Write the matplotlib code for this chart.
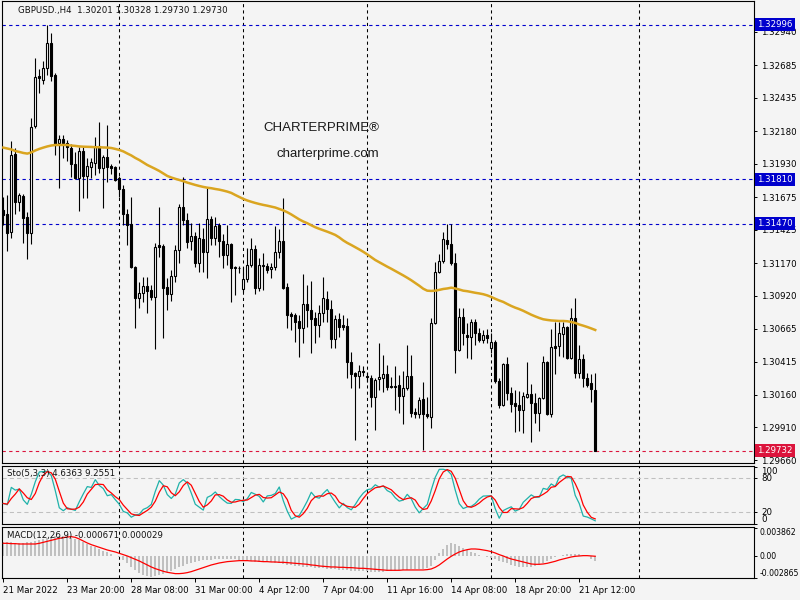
import numpy as np
import pandas as pd
import matplotlib
matplotlib.use('Agg')
import matplotlib.pyplot as plt
from matplotlib import transforms

# GBPUSD H4 candles (bar 0 = 21 Mar 2022 00:00)
opens = [
    1.31576, 1.31546, 1.31408, 1.32005, 1.31638, 1.31684, 1.31523, 1.31400, 1.32220, 1.32603,
    1.32572, 1.32664, 1.32856, 1.32610, 1.32090, 1.32120, 1.32090, 1.32051, 1.31929, 1.31822,
    1.32028, 1.31837, 1.31906, 1.31936, 1.32067, 1.31898, 1.31982, 1.31913, 1.31906, 1.31822,
    1.31737, 1.31546, 1.31469, 1.31140, 1.30902, 1.30941, 1.30994, 1.30964, 1.30910, 1.31308,
    1.31301, 1.30987, 1.30933, 1.31071, 1.31270, 1.31599, 1.31500, 1.31339, 1.31377, 1.31171,
    1.31354, 1.31255, 1.31507, 1.31362, 1.31462, 1.31339, 1.31232, 1.31316, 1.31140, 1.31133,
    1.30971, 1.31048, 1.31156, 1.31278, 1.30979, 1.31148, 1.31148, 1.31125, 1.31140, 1.31255,
    1.31339, 1.30987, 1.30780, 1.30772, 1.30726, 1.30673, 1.30856, 1.30810, 1.30749, 1.30696,
    1.30787, 1.30895, 1.30818, 1.30588, 1.30741, 1.30696, 1.30688, 1.30412, 1.30328, 1.30305,
    1.30343, 1.30305, 1.30289, 1.30144, 1.30282, 1.30289, 1.30320, 1.30228, 1.30228, 1.30236,
    1.30152, 1.30213, 1.30305, 1.30029, 1.30014, 1.30129, 1.30014, 1.29991, 1.30711, 1.31102,
    1.31186, 1.31347, 1.31316, 1.31171, 1.30504, 1.30757, 1.30619, 1.30604, 1.30718, 1.30634,
    1.30581, 1.30619, 1.30519, 1.30565, 1.30266, 1.30083, 1.30397, 1.30175, 1.30098, 1.30083,
    1.30044, 1.30144, 1.30167, 1.30098, 1.30021, 1.30136, 1.30412, 1.30014, 1.30535, 1.30535,
    1.30627, 1.30680, 1.30443, 1.30749, 1.30328, 1.30435, 1.30289, 1.30251, 1.30201]
highs = [
    1.31676, 1.31691, 1.32105, 1.32051, 1.31707, 1.31699, 1.31561, 1.32281, 1.32741, 1.32656,
    1.32718, 1.32996, 1.32932, 1.32626, 1.32151, 1.32151, 1.32113, 1.32082, 1.32021, 1.32059,
    1.32059, 1.31975, 1.31975, 1.32136, 1.32250, 1.31998, 1.32228, 1.31929, 1.31913, 1.31837,
    1.31768, 1.31584, 1.31676, 1.31148, 1.31025, 1.31063, 1.31063, 1.31002, 1.31324, 1.31599,
    1.31316, 1.31056, 1.31117, 1.31308, 1.31622, 1.31829, 1.31553, 1.31477, 1.31408, 1.31477,
    1.31439, 1.31745, 1.31530, 1.31523, 1.31477, 1.31393, 1.31462, 1.31324, 1.31145, 1.31148,
    1.31140, 1.31285, 1.31362, 1.31308, 1.31209, 1.31247, 1.31171, 1.31171, 1.31454, 1.31431,
    1.31668, 1.31017, 1.30795, 1.30787, 1.30772, 1.31087, 1.31002, 1.31033, 1.30795, 1.30849,
    1.31063, 1.30956, 1.30885, 1.30772, 1.30787, 1.30772, 1.30749, 1.30489, 1.30335, 1.30389,
    1.30381, 1.30335, 1.30312, 1.30289, 1.30558, 1.30466, 1.30389, 1.30297, 1.30381, 1.30312,
    1.30343, 1.30542, 1.30466, 1.30060, 1.30144, 1.30259, 1.30144, 1.30749, 1.31178, 1.31239,
    1.31408, 1.31470, 1.31470, 1.31247, 1.30826, 1.30826, 1.30711, 1.30741, 1.30741, 1.30673,
    1.30657, 1.30665, 1.30634, 1.30581, 1.30289, 1.30404, 1.30450, 1.30221, 1.30198, 1.30190,
    1.30182, 1.30412, 1.30243, 1.30175, 1.30144, 1.30458, 1.30420, 1.30665, 1.30718, 1.30718,
    1.30718, 1.30688, 1.30826, 1.30902, 1.30542, 1.30473, 1.30328, 1.30320, 1.30328]
lows = [
    1.31462, 1.31262, 1.31362, 1.31546, 1.31569, 1.31324, 1.31201, 1.31316, 1.32205, 1.32473,
    1.32542, 1.32610, 1.32565, 1.31998, 1.31745, 1.31975, 1.31952, 1.31829, 1.31815, 1.31569,
    1.31668, 1.31668, 1.31822, 1.31845, 1.31860, 1.31592, 1.31791, 1.31852, 1.31799, 1.31676,
    1.31462, 1.31308, 1.31133, 1.30673, 1.30826, 1.30872, 1.30787, 1.30885, 1.30512, 1.31216,
    1.30596, 1.30810, 1.30879, 1.31025, 1.31171, 1.31462, 1.31285, 1.31270, 1.31140, 1.31102,
    1.31102, 1.31056, 1.31308, 1.31308, 1.31216, 1.31133, 1.31156, 1.30872, 1.30925, 1.31094,
    1.30948, 1.31025, 1.31140, 1.30933, 1.30956, 1.30964, 1.31094, 1.31056, 1.31117, 1.31209,
    1.30971, 1.30673, 1.30657, 1.30565, 1.30450, 1.30558, 1.30680, 1.30481, 1.30558, 1.30604,
    1.30718, 1.30718, 1.30519, 1.30519, 1.30604, 1.30657, 1.30289, 1.30213, 1.29815, 1.30213,
    1.30305, 1.30259, 1.30067, 1.29891, 1.30198, 1.30182, 1.30198, 1.30213, 1.30044, 1.30021,
    1.29937, 1.30198, 1.29991, 1.29983, 1.29983, 1.29738, 1.29983, 1.29907, 1.30703, 1.31094,
    1.31171, 1.31278, 1.31156, 1.30328, 1.30496, 1.30542, 1.30443, 1.30435, 1.30542, 1.30565,
    1.30558, 1.30558, 1.30481, 1.30251, 1.30060, 1.30075, 1.30121, 1.30029, 1.29876, 1.29884,
    1.29868, 1.30136, 1.29799, 1.29945, 1.29884, 1.30129, 1.30006, 1.29991, 1.30320, 1.30458,
    1.30450, 1.30435, 1.30435, 1.30289, 1.30289, 1.30221, 1.30221, 1.30106, 1.29730]
closes = [
    1.31538, 1.31400, 1.31998, 1.31638, 1.31691, 1.31515, 1.31400, 1.32212, 1.32595, 1.32590,
    1.32664, 1.32856, 1.32603, 1.32074, 1.32120, 1.32090, 1.32059, 1.31929, 1.31822, 1.32028,
    1.31837, 1.31913, 1.31944, 1.32067, 1.31898, 1.31982, 1.31906, 1.31898, 1.31806, 1.31737,
    1.31546, 1.31462, 1.31140, 1.30902, 1.30941, 1.30994, 1.30956, 1.30910, 1.31293, 1.31293,
    1.30979, 1.30933, 1.31071, 1.31270, 1.31599, 1.31500, 1.31331, 1.31377, 1.31171, 1.31362,
    1.31255, 1.31507, 1.31362, 1.31454, 1.31339, 1.31232, 1.31316, 1.31133, 1.31133, 1.31128,
    1.31048, 1.31156, 1.31278, 1.30979, 1.31156, 1.31156, 1.31117, 1.31140, 1.31255, 1.31339,
    1.30979, 1.30772, 1.30764, 1.30718, 1.30673, 1.30856, 1.30810, 1.30741, 1.30696, 1.30787,
    1.30902, 1.30818, 1.30588, 1.30741, 1.30680, 1.30680, 1.30412, 1.30320, 1.30305, 1.30343,
    1.30338, 1.30300, 1.30144, 1.30274, 1.30297, 1.30320, 1.30221, 1.30224, 1.30224, 1.30152,
    1.30213, 1.30305, 1.30021, 1.30014, 1.30121, 1.30014, 1.29999, 1.30711, 1.31102, 1.31186,
    1.31354, 1.31316, 1.31171, 1.30504, 1.30757, 1.30634, 1.30604, 1.30718, 1.30634, 1.30581,
    1.30619, 1.30596, 1.30565, 1.30266, 1.30083, 1.30397, 1.30175, 1.30090, 1.30075, 1.30044,
    1.30152, 1.30167, 1.30098, 1.30021, 1.30136, 1.30412, 1.30014, 1.30527, 1.30519, 1.30634,
    1.30680, 1.30443, 1.30749, 1.30328, 1.30435, 1.30289, 1.30236, 1.30205, 1.29730]

# moving average (gold line) as shown on the chart
ma_values = [
    1.32054, 1.32047, 1.32040, 1.32028, 1.32021, 1.32013, 1.32008, 1.32017, 1.32032, 1.32044,
    1.32054, 1.32063, 1.32070, 1.32074, 1.32074, 1.32074, 1.32074, 1.32070, 1.32067, 1.32063,
    1.32061, 1.32060, 1.32059, 1.32057, 1.32057, 1.32055, 1.32054, 1.32051, 1.32044, 1.32036,
    1.32025, 1.32009, 1.31994, 1.31975, 1.31959, 1.31940, 1.31921, 1.31906, 1.31891, 1.31875,
    1.31856, 1.31837, 1.31825, 1.31815, 1.31806, 1.31797, 1.31786, 1.31777, 1.31768, 1.31760,
    1.31753, 1.31747, 1.31743, 1.31737, 1.31732, 1.31725, 1.31717, 1.31707, 1.31691, 1.31676,
    1.31661, 1.31649, 1.31639, 1.31630, 1.31622, 1.31615, 1.31609, 1.31602, 1.31595, 1.31584,
    1.31573, 1.31559, 1.31542, 1.31523, 1.31504, 1.31488, 1.31475, 1.31459, 1.31444, 1.31432,
    1.31421, 1.31410, 1.31398, 1.31385, 1.31366, 1.31343, 1.31324, 1.31308, 1.31291, 1.31274,
    1.31256, 1.31236, 1.31214, 1.31193, 1.31176, 1.31159, 1.31142, 1.31126, 1.31109, 1.31092,
    1.31075, 1.31057, 1.31038, 1.31017, 1.30996, 1.30973, 1.30958, 1.30956, 1.30958, 1.30964,
    1.30971, 1.30975, 1.30981, 1.30975, 1.30967, 1.30958, 1.30954, 1.30948, 1.30942, 1.30937,
    1.30931, 1.30922, 1.30910, 1.30896, 1.30883, 1.30872, 1.30856, 1.30841, 1.30828, 1.30817,
    1.30804, 1.30789, 1.30774, 1.30761, 1.30749, 1.30739, 1.30734, 1.30730, 1.30728, 1.30726,
    1.30726, 1.30724, 1.30718, 1.30711, 1.30699, 1.30690, 1.30680, 1.30669, 1.30657]

# MACD(12,26,9): histogram (main) and red signal line
macd_main = [
    0.001894, 0.001938, 0.001894, 0.001849, 0.001805, 0.001849, 0.001894, 0.001938, 0.002072, 0.002206,
    0.002384, 0.002518, 0.002651, 0.002741, 0.002785, 0.002741, 0.002651, 0.002518, 0.002339, 0.002161,
    0.001938, 0.001671, 0.001448, 0.001225, 0.001003, 0.000780, 0.000557, 0.000334, 0.000111, -0.000111,
    -0.000468, -0.000914, -0.001359, -0.001805, -0.002161, -0.002429, -0.002607, -0.002696, -0.002651, -0.002518,
    -0.002339, -0.002117, -0.001894, -0.001671, -0.001448, -0.001225, -0.001003, -0.000824, -0.000691, -0.000602,
    -0.000512, -0.000468, -0.000423, -0.000379, -0.000334, -0.000290, -0.000290, -0.000334, -0.000379, -0.000468,
    -0.000557, -0.000602, -0.000646, -0.000691, -0.000691, -0.000691, -0.000735, -0.000780, -0.000824, -0.000914,
    -0.001003, -0.001092, -0.001181, -0.001270, -0.001315, -0.001359, -0.001404, -0.001448, -0.001493, -0.001537,
    -0.001582, -0.001626, -0.001671, -0.001716, -0.001760, -0.001805, -0.001849, -0.001894, -0.001938, -0.001983,
    -0.001983, -0.001983, -0.002028, -0.002072, -0.002072, -0.002028, -0.001983, -0.001938, -0.001894, -0.001849,
    -0.001805, -0.001760, -0.001716, -0.001671, -0.001626, -0.001626, -0.001582, -0.001270, -0.000468, 0.000423,
    0.001047, 0.001537, 0.001760, 0.001671, 0.001404, 0.001136, 0.000869, 0.000646, 0.000423, 0.000245,
    0.000111, -0.000022, -0.000201, -0.000379, -0.000557, -0.000735, -0.000914, -0.001092, -0.001270, -0.001404,
    -0.001448, -0.001448, -0.001359, -0.001225, -0.001047, -0.000824, -0.000557, -0.000290, -0.000067, 0.000111,
    0.000201, 0.000290, 0.000334, 0.000334, 0.000290, 0.000201, 0.000067, -0.000290, -0.000671]
macd_signal = [
    0.001760, 0.001760, 0.001716, 0.001716, 0.001671, 0.001671, 0.001671, 0.001671, 0.001671, 0.001760,
    0.001894, 0.002028, 0.002161, 0.002295, 0.002429, 0.002518, 0.002607, 0.002651, 0.002562, 0.002339,
    0.002072, 0.001805, 0.001582, 0.001404, 0.001225, 0.001047, 0.000869, 0.000735, 0.000602, 0.000423,
    0.000245, 0.000067, -0.000156, -0.000379, -0.000602, -0.000869, -0.001136, -0.001404, -0.001626, -0.001805,
    -0.001983, -0.002117, -0.002206, -0.002295, -0.002295, -0.002250, -0.002161, -0.002028, -0.001849, -0.001671,
    -0.001493, -0.001315, -0.001136, -0.001003, -0.000869, -0.000780, -0.000691, -0.000646, -0.000602, -0.000557,
    -0.000557, -0.000557, -0.000602, -0.000602, -0.000646, -0.000691, -0.000691, -0.000735, -0.000735, -0.000780,
    -0.000780, -0.000824, -0.000869, -0.000914, -0.000958, -0.001003, -0.001047, -0.001136, -0.001181, -0.001270,
    -0.001315, -0.001359, -0.001404, -0.001404, -0.001448, -0.001448, -0.001493, -0.001493, -0.001537, -0.001582,
    -0.001582, -0.001626, -0.001671, -0.001716, -0.001760, -0.001805, -0.001849, -0.001849, -0.001849, -0.001849,
    -0.001805, -0.001805, -0.001805, -0.001805, -0.001805, -0.001805, -0.001760, -0.001671, -0.001448, -0.001136,
    -0.000735, -0.000334, 0.000022, 0.000334, 0.000602, 0.000780, 0.000914, 0.001003, 0.001003, 0.000958,
    0.000869, 0.000780, 0.000646, 0.000468, 0.000245, 0.000067, -0.000156, -0.000334, -0.000468, -0.000602,
    -0.000735, -0.000869, -0.001003, -0.001047, -0.001047, -0.001003, -0.000914, -0.000780, -0.000646, -0.000468,
    -0.000334, -0.000201, -0.000067, 0.000022, 0.000067, 0.000111, 0.000111, 0.000067, 0.000029]

time_labels = ['21 Mar 2022', '23 Mar 20:00', '28 Mar 08:00', '31 Mar 00:00', '4 Apr 12:00',
               '7 Apr 04:00', '11 Apr 16:00', '14 Apr 08:00', '18 Apr 20:00', '21 Apr 12:00']
label_bars = [0, 16, 32, 48, 64, 80, 96, 112, 128, 144]
grid_bars = [29, 60, 91, 122, 159]   # week separators
price_ticks = [1.32940, 1.32685, 1.32435, 1.32180, 1.31930, 1.31675, 1.31425,
               1.31170, 1.30920, 1.30665, 1.30415, 1.30160, 1.29910, 1.29660]
level_prices = [1.32996, 1.31810, 1.31470]
last_price = 1.29732

W, H = 800, 600
BG = '#f4f4f4'
FS = 6.2


def px_axes(fig, left, top, right, bottom):
    # place an axes by pixel edges measured on the screenshot
    return fig.add_axes([left / W, 1 - bottom / H, (right - left) / W, (bottom - top) / H])


fig = plt.figure(figsize=(8, 6), dpi=100, facecolor=BG)
ax = px_axes(fig, 2.3, 1, 754, 463)
ax_sto = px_axes(fig, 2.3, 465.7, 754, 524)
ax_macd = px_axes(fig, 2.3, 526.5, 754, 578)

n = len(closes)
idx = np.arange(n)

for a in (ax, ax_sto, ax_macd):
    a.set_facecolor(BG)
    a.set_xlim(-0.25, 187.7)
    for s in a.spines.values():
        s.set_color('black')
        s.set_linewidth(0.8)
    a.yaxis.tick_right()
    a.tick_params(axis='y', direction='out', length=2.5, width=0.7, labelsize=FS, pad=2.5, colors='black')
    a.tick_params(axis='x', bottom=False, labelbottom=False)
    for g in grid_bars:
        a.axvline(g, color='black', lw=0.75, ls=(0, (3, 3)), zorder=0.5)

# --- main price window
o = np.array(opens)
c = np.array(closes)
up = c >= o
ax.vlines(idx, lows, highs, color='black', lw=0.8, zorder=2)
ax.bar(idx[up], (c - o)[up], bottom=o[up], width=0.5, color='white', edgecolor='black', lw=0.8, zorder=3)
ax.bar(idx[~up], (o - c)[~up], bottom=c[~up], width=0.5, color='black', edgecolor='black', lw=0.8, zorder=3)
ax.plot(idx, ma_values, color='#daa520', lw=1.8, zorder=4)

ax.set_ylim(1.29638, 1.33177)
ax.set_yticks(price_ticks)
ax.set_yticklabels(['%.5f' % p for p in price_ticks])

right_side = transforms.blended_transform_factory(ax.transAxes, ax.transData)
for p in level_prices:
    ax.axhline(p, color='#0000cd', lw=0.8, ls=(0, (3, 3)), zorder=1)
    ax.text(1.004, p, '%.5f' % p, transform=right_side, color='white', fontsize=FS,
            va='center', ha='left', bbox=dict(boxstyle='square,pad=0.25', fc='#0000cd', ec='none'))
ax.axhline(last_price, color='#dc143c', lw=0.8, ls=(0, (3, 3)), zorder=1)
ax.text(1.004, last_price, '%.5f' % last_price, transform=right_side, color='white', fontsize=FS,
        va='center', ha='left', bbox=dict(boxstyle='square,pad=0.25', fc='#dc143c', ec='none'))

ax.text(0.021, 0.98, 'GBPUSD.,H4  1.30201 1.30328 1.29730 1.29730', transform=ax.transAxes,
        fontsize=FS, va='center', ha='left', color='#111111')
ax.text(0.424, 0.725, 'CHARTERPRIME®', transform=ax.transAxes, fontsize=9.5,
        family='Liberation Sans', ha='center', va='center', color='#1a1a1a')
ax.text(0.433, 0.669, 'charterprime.com', transform=ax.transAxes, fontsize=9.5,
        family='Liberation Sans', ha='center', va='center', color='#1a1a1a')

# --- stochastic (5,3,3) from the candles
df = pd.DataFrame({'h': highs, 'l': lows, 'c': closes})
hh = df['h'].rolling(5, min_periods=1).max()
ll = df['l'].rolling(5, min_periods=1).min()
sto_k = 100 * (df['c'] - ll).rolling(3, min_periods=1).sum() / (hh - ll).rolling(3, min_periods=1).sum()
sto_d = sto_k.rolling(3, min_periods=1).mean()

ax_sto.set_ylim(-0.7, 102.2)
for lvl in (20, 80):
    ax_sto.axhline(lvl, color='#c0c0c0', lw=0.75, ls=(0, (4, 3)), zorder=1)
ax_sto.plot(idx, sto_k, color='#20b2aa', lw=0.9, zorder=3)
ax_sto.plot(idx, sto_d, color='red', lw=0.9, zorder=3)
ax_sto.set_yticks([0, 20, 80, 100])
ax_sto.set_yticklabels(['0', '20', '80', '100'])
for lbl, va in zip(ax_sto.get_yticklabels(), ['bottom', 'center', 'center', 'top']):
    lbl.set_va(va)
ax_sto.text(0.006, 0.86, 'Sto(5,3,3) 4.6363 9.2551', transform=ax_sto.transAxes,
            fontsize=FS, va='center', ha='left', color='#111111')

# --- MACD window
ax_macd.bar(idx, macd_main, width=0.5, color='#c0c0c0', zorder=2)
ax_macd.plot(idx, macd_signal, color='red', lw=0.9, zorder=3)
ax_macd.set_ylim(-0.00288, 0.00401)
ax_macd.set_yticks([-0.002865, 0.0, 0.003862])
ax_macd.set_yticklabels(['-0.002865', '0.00', '0.003862'])
ax_macd.tick_params(axis='y', labelsize=5.6, pad=1.5)
for lbl, va in zip(ax_macd.get_yticklabels(), ['bottom', 'center', 'top']):
    lbl.set_va(va)
ax_macd.text(0.006, 0.82, 'MACD(12,26,9) -0.000671 0.000029', transform=ax_macd.transAxes,
             fontsize=FS, va='center', ha='left', color='#111111')

ax_macd.set_xticks(label_bars)
ax_macd.set_xticklabels(time_labels)
ax_macd.tick_params(axis='x', bottom=True, labelbottom=True, direction='out', length=3,
                    width=0.7, labelsize=FS, pad=3)
for lbl in ax_macd.get_xticklabels():
    lbl.set_ha('left')

fig.savefig('out.png', dpi=100, facecolor=BG)
